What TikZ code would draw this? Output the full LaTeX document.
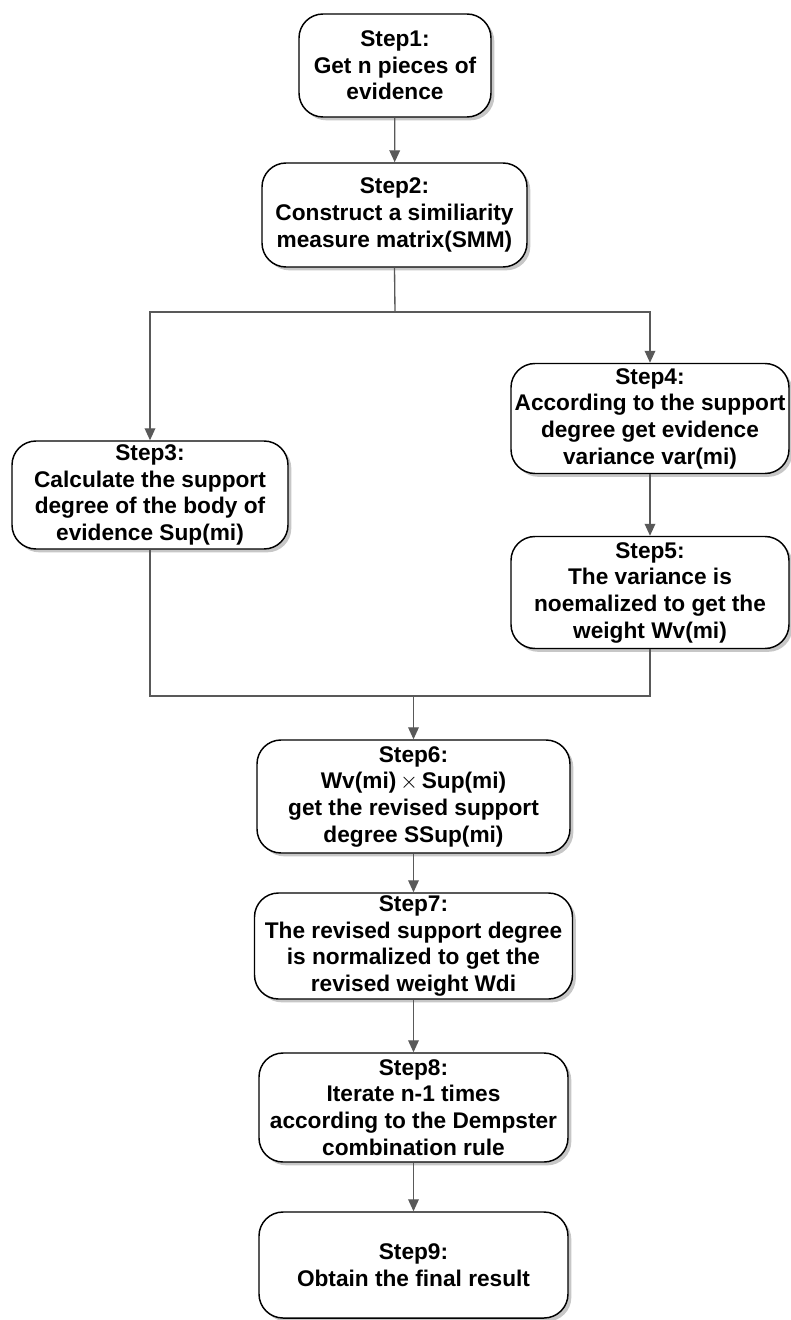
\documentclass[tikz,border=0pt]{standalone}
\usepackage{fontspec}
\setmainfont{Liberation Sans}
\usetikzlibrary{arrows.meta,shadows}
\begin{document}
\begin{tikzpicture}[x=0.75pt,y=-0.75pt,
  stepbox/.style={draw=black, line width=1.1pt, fill=white, rounded corners=18pt,
    align=center, inner sep=0pt, font=\fontsize{17}{20}\selectfont\bfseries,
    drop shadow={shadow xshift=2.5pt, shadow yshift=-2.5pt, fill=black, opacity=0.22}},
  conn/.style={draw=black!65, line width=1pt},
  arr/.style={conn, -{Triangle[width=8pt,length=9pt]}}]
\useasboundingbox (0,0) rectangle (790,1320);
\node[stepbox, minimum width=192*0.75pt, minimum height=103*0.75pt] (s1) at (395,65.5)
  {Step1:\\Get n pieces of\\evidence};
\node[stepbox, minimum width=265*0.75pt, minimum height=104*0.75pt] (s2) at (394.5,215)
  {Step2:\\Construct a similiarity\\measure matrix(SMM)};
\node[stepbox, minimum width=276*0.75pt, minimum height=108*0.75pt] (s3) at (150,495)
  {Step3:\\Calculate the support\\degree of the body of\\evidence Sup(mi)};
\node[stepbox, minimum width=278*0.75pt, minimum height=110*0.75pt] (s4) at (650,418.5)
  {Step4:\\According to the support\\degree get evidence\\variance var(mi)};
\node[stepbox, minimum width=278*0.75pt, minimum height=112*0.75pt] (s5) at (650,592.5)
  {Step5:\\The variance is\\noemalized to get the\\weight Wv(mi)};
\node[stepbox, minimum width=313*0.75pt, minimum height=113*0.75pt] (s6) at (413.5,796.5)
  {Step6:\\Wv(mi)\,{\mdseries$\times$}\,Sup(mi)\\get the revised support\\degree SSup(mi)};
\node[stepbox, minimum width=318*0.75pt, minimum height=106*0.75pt] (s7) at (413.5,946)
  {Step7:\\The revised support degree\\is normalized to get the\\revised weight Wdi};
\node[stepbox, minimum width=309*0.75pt, minimum height=109*0.75pt] (s8) at (413.5,1107.5)
  {Step8:\\Iterate n-1 times\\according to the Dempster\\combination rule};
\node[stepbox, minimum width=309*0.75pt, minimum height=106*0.75pt] (s9) at (413.5,1265)
  {Step9:\\Obtain the final result};
\coordinate (split) at (395,312);
\coordinate (join) at (413.5,696);
\draw[arr] (s1) -- (s2);
\draw[conn] (s2.south) -- (split);
\draw[arr] (split) -| (s3.north);
\draw[arr] (split) -| (s4.north);
\draw[arr] (s4) -- (s5);
\draw[conn] (s3.south) |- (join);
\draw[conn] (s5.south) |- (join);
\draw[arr] (join) -- (s6.north);
\draw[arr] (s6) -- (s7);
\draw[arr] (s7) -- (s8);
\draw[arr] (s8) -- (s9);
\end{tikzpicture}
\end{document}
